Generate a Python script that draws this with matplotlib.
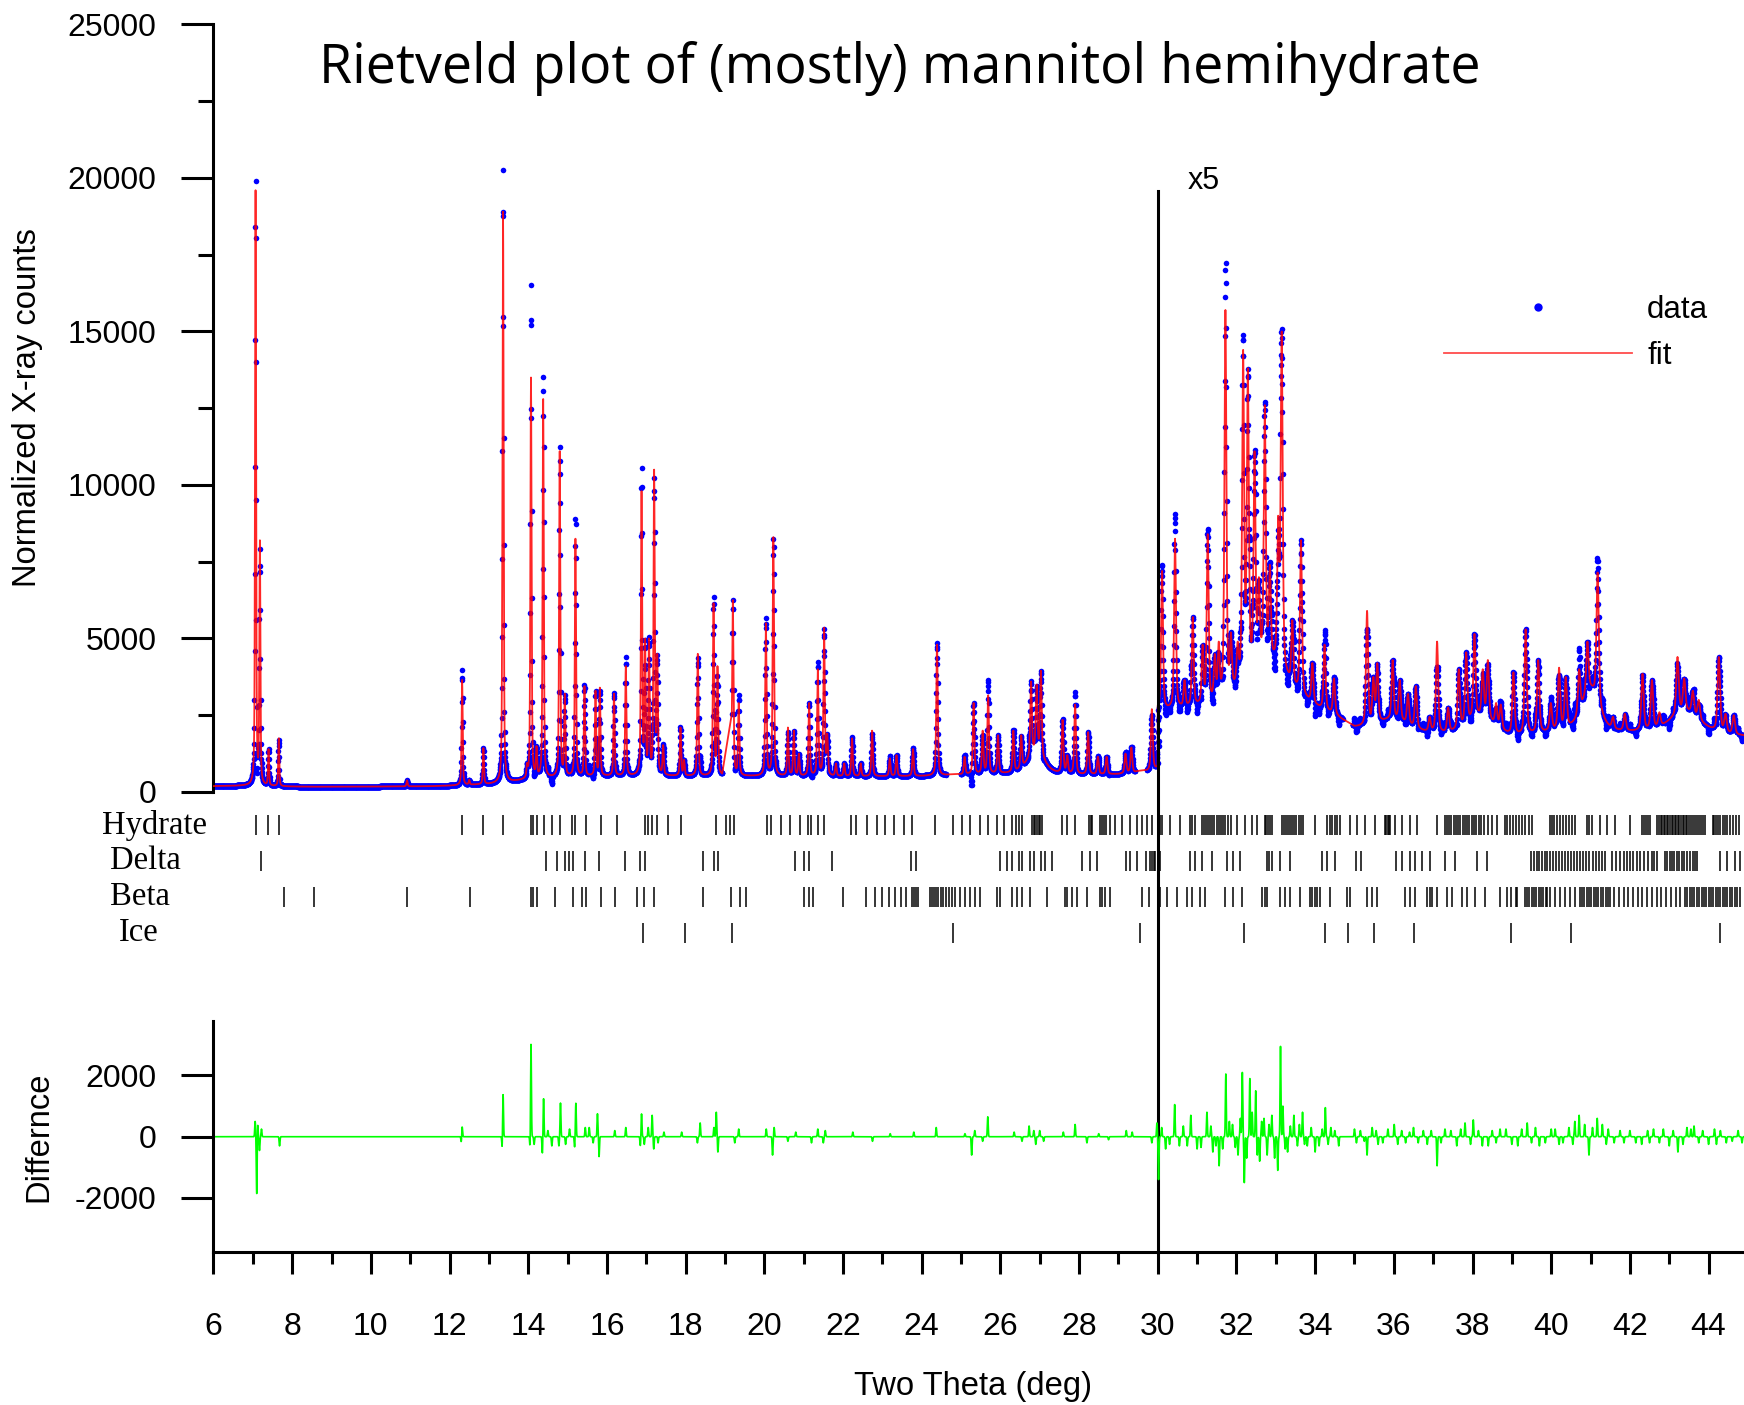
import numpy as np
import matplotlib
matplotlib.use("Agg")
import matplotlib.pyplot as plt
from matplotlib.lines import Line2D
from matplotlib.ticker import MultipleLocator
from matplotlib.transforms import blended_transform_factory

plt.rcParams['font.family'] = ['Liberation Sans', 'DejaVu Sans']
plt.rcParams['axes.unicode_minus'] = False

# --- data (counts above 30 deg are shown x5) ---
STEP = 0.005                      # 2theta step of the scan
X_MIN, X_MAX = 6.0, 44.9
GAPS = [(18.93, 19.17), (24.62, 24.99), (29.42, 29.72), (34.70, 34.95)]

bg_x = [6.0, 6.8, 7.6, 8.5, 10.0, 11.5, 12.2, 13.0, 13.6, 14.2, 15.0, 16.0, 18.0, 20.0,
        22.0, 24.0, 25.0, 26.0, 27.0, 28.0, 29.0, 29.999,
        30.0, 31.0, 32.0, 33.0, 33.8, 34.5, 35.0, 36.0, 37.0, 38.0, 39.0, 40.0, 40.8,
        41.5, 42.5, 43.5, 44.9]
bg_y = [190, 200, 180, 170, 175, 185, 210, 250, 330, 420, 480, 510, 510, 510,
        500, 510, 550, 570, 570, 530, 550, 650,
        2600, 2700, 2900, 2900, 2700, 2400, 2000, 1800, 1800, 1700, 1700, 1900, 2000,
        1900, 1900, 1900, 1800]

fwhm_x = [6, 15, 25, 30, 45]
fwhm_y = [0.030, 0.035, 0.045, 0.055, 0.075]

# fitted peak positions and tops (total counts at the top)
peak_pos = [7.07, 7.18, 7.40, 7.66, 10.92, 12.32, 12.50, 12.86, 13.36, 13.97,
            14.07, 14.21, 14.38, 14.80, 14.93, 15.20, 15.43, 15.71, 15.82, 16.18,
            16.48, 16.88, 16.97, 17.07, 17.20, 17.28, 17.43, 17.87, 17.96, 18.31,
            18.71, 18.81, 19.20, 19.35, 20.04, 20.23, 20.60, 20.75, 20.88, 21.14,
            21.36, 21.52, 21.60, 21.82, 22.03, 22.23, 22.45, 22.74, 23.19, 23.36,
            23.78, 24.39, 25.09, 25.32, 25.55, 25.69, 25.94, 26.33, 26.53, 26.78,
            26.92, 27.03, 27.58, 27.70, 27.90, 28.23, 28.48, 28.70, 29.18, 29.33,
            29.85,
            30.11, 30.44, 30.68, 30.89, 31.14, 31.27, 31.45, 31.55, 31.72, 31.86,
            32.03, 32.17, 32.29, 32.46, 32.57, 32.72, 32.85, 33.06, 33.15, 33.42,
            33.64, 33.93, 34.24, 34.48, 35.32, 35.48, 35.58, 35.97, 36.15, 36.36,
            36.56, 36.91, 37.10, 37.38, 37.65, 37.84, 38.05, 38.26, 38.39, 38.60,
            38.72, 39.04, 39.35, 39.67, 39.99, 40.20, 40.37, 40.71, 40.92, 41.18,
            41.57, 41.87, 42.32, 42.56, 42.75, 43.21, 43.38, 43.60, 43.75, 44.26,
            44.43, 44.64]
peak_top = [19600, 8200, 1400, 1750, 380, 3650, 400, 1430, 18900, 950,
            13500, 1500, 12800, 11100, 3200, 8250, 3450, 3300, 3400, 3200,
            4100, 9800, 5000, 5000, 10500, 4500, 1530, 2100, 1050, 4500,
            6150, 4100, 6250, 2900, 5500, 8300, 2100, 2000, 1250, 2900,
            4000, 5350, 1900, 930, 930, 1750, 930, 2000, 1100, 1200,
            1400, 4800, 1150, 2900, 2000, 3150, 1850, 2000, 1850, 3600,
            3500, 3950, 2350, 1200, 2850, 1950, 1150, 1150, 1250, 1450,
            2700,
            7200, 8250, 3650, 5700, 4800, 8400, 4500, 4900, 15700, 5200,
            4900, 14400, 13800, 11100, 7000, 12600, 7400, 9000, 15000, 5600,
            8200, 4200, 4800, 3700, 5900, 3750, 4200, 4300, 3650, 3200,
            3450, 2450, 4900, 2750, 4000, 4550, 5150, 4000, 4300, 2900,
            2850, 3900, 5300, 4300, 2900, 4050, 3750, 4000, 4900, 7150,
            2450, 2550, 3850, 3650, 2600, 4400, 3700, 3300, 3000, 4400,
            2550, 2500]

# broad humps under the clusters: position, height, fwhm
broad_pos = [26.9, 32.8, 36.0, 38.2, 41.0, 43.4]
broad_h = [700, 1300, 500, 700, 1300, 700]
broad_w = [0.5, 1.2, 1.0, 0.9, 0.5, 0.9]

diff_pos = [7.06, 7.10, 7.12, 7.17, 7.22, 7.68, 12.30, 12.32, 13.34, 13.36,
            14.05, 14.07, 14.15, 14.36, 14.39, 14.50, 14.60, 14.78, 14.82, 14.95,
            15.05, 15.18, 15.21, 15.45, 15.55, 15.65, 15.76, 15.80, 16.20, 16.48,
            16.85, 16.88, 16.95, 17.05, 17.15, 17.19, 17.30, 17.45, 17.90, 18.30,
            18.37, 18.72, 18.78, 18.82, 19.12, 19.25, 19.35, 20.05, 20.21, 20.25,
            20.60, 20.80, 21.20, 21.36, 21.50, 21.55, 22.25, 22.75, 23.20, 23.80,
            24.37, 25.10, 25.27, 25.35, 25.55, 25.68, 26.35, 26.55, 26.73, 26.85,
            26.90, 27.00, 27.10, 27.60, 27.90, 28.20, 28.50, 28.75, 29.20, 29.35,
            29.85, 29.98,
            30.02, 30.10, 30.20, 30.30, 30.43, 30.55, 30.65, 30.75, 30.84, 31.00,
            31.10, 31.25, 31.35, 31.40, 31.48, 31.56, 31.65, 31.73, 31.82, 31.90,
            31.97, 32.04, 32.10, 32.15, 32.20, 32.26, 32.34, 32.40, 32.49, 32.53,
            32.59, 32.64, 32.70, 32.78, 32.83, 32.90, 32.97, 33.05, 33.12, 33.18,
            33.24, 33.30, 33.37, 33.46, 33.55, 33.60, 33.68, 33.73, 33.80, 33.90,
            34.00, 34.10, 34.18, 34.26, 34.33, 34.40, 34.50, 34.60, 35.00, 35.05,
            35.15, 35.25, 35.32, 35.45, 35.55, 35.60, 35.72, 35.85, 36.01, 36.10,
            36.20, 36.30, 36.40, 36.50, 36.62, 36.75, 36.85, 36.95, 37.10, 37.20,
            37.30, 37.45, 37.60, 37.70, 37.81, 37.95, 38.02, 38.15, 38.25, 38.40,
            38.50, 38.60, 38.70, 38.85, 39.00, 39.15, 39.25, 39.39, 39.50, 39.60,
            39.70, 39.85, 40.00, 40.10, 40.20, 40.30, 40.45, 40.55, 40.60, 40.71,
            40.85, 40.96, 41.05, 41.17, 41.30, 41.40, 41.45, 41.60, 41.75, 41.85,
            42.00, 42.15, 42.30, 42.45, 42.50, 42.60, 42.75, 42.85, 43.00, 43.10,
            43.22, 43.35, 43.45, 43.55, 43.63, 43.75, 43.85, 44.00, 44.15, 44.20,
            44.30, 44.45, 44.60, 44.75, 44.85]
diff_val = [500, -1950, 550, -450, 250, -300, -200, 350, -450, 1450,
            -500, 3100, -250, -550, 1250, 200, -300, -300, 1100, -250,
            250, -350, 1100, 300, 300, -200, 750, -650, 200, 300,
            -300, 750, -250, 300, 700, -400, -200, 150, 150, -200,
            450, 300, 800, -500, 300, -200, 250, 250, -600, 300,
            -150, 150, -200, 250, -200, 200, 150, -150, 100, 150,
            300, 100, -600, 200, -150, 650, 150, -150, 350, 200,
            -250, 200, -150, 150, 400, -200, 100, -100, 200, 150,
            -200, 450,
            -1400, 300, -400, -250, 1050, -300, 350, -300, 700, -400,
            -350, 800, 350, -500, -300, -950, -400, 2050, 500, 400,
            -350, -600, 600, 2100, -1500, -700, 1900, 800, 1500, -600,
            -800, 500, 600, -600, 400, 700, -700, -1100, 2950, 1000,
            -400, -500, 350, 700, -300, 400, 800, -250, -300, 300,
            -500, -300, 250, 950, -250, 300, 200, -300, 250, -200,
            200, -150, -600, 300, 200, -250, -200, 250, 400, -250,
            200, -200, 150, 300, -200, 200, -250, 200, -950, -200,
            250, 200, -300, 250, 450, -250, 550, 200, -300, -300,
            200, -200, 250, 250, -250, -300, 250, 450, -200, 300,
            -300, -200, 250, 250, -250, -200, 300, -250, 500, 700,
            400, -600, 300, 600, 400, -250, 250, -200, 200, -200,
            200, -200, -250, 200, -200, 250, -200, 250, -300, 200,
            -500, -250, 300, 250, 350, -200, 200, -250, 250, -250,
            200, -200, -150, 200, -200]

# reflection markers
hydrate = [7.07, 7.38, 7.66, 12.31, 12.86, 13.37, 14.06, 14.13, 14.23, 14.39, 14.60, 14.80,
           15.12, 15.20, 15.47, 15.85, 16.25, 16.98, 17.05, 17.15, 17.27, 17.56, 17.89, 18.77,
           19.02, 19.13, 19.24, 20.07, 20.16, 20.43, 20.65, 20.91, 21.10, 21.18, 21.36, 21.52,
           22.20, 22.34, 22.62, 22.86, 23.08, 23.29, 23.54, 23.76, 24.35, 24.80, 25.03, 25.22,
           25.48, 25.69, 25.92, 26.09, 26.30, 26.39, 26.47, 26.56, 26.81, 26.85, 26.89, 26.93,
           26.97, 27.01, 27.05, 27.57, 27.70, 27.89, 28.25, 28.30, 28.34, 28.53, 28.58, 28.63,
           28.68, 28.78, 28.91, 29.10, 29.29, 29.48, 29.61, 29.73, 29.86, 30.03, 30.06, 30.12,
           30.31, 30.56, 30.82, 30.88, 30.94, 31.13, 31.18, 31.23, 31.27, 31.33, 31.38, 31.44,
           31.50, 31.55, 31.60, 31.66, 31.72, 31.78, 31.86, 32.02, 32.21, 32.40, 32.53, 32.72,
           32.76, 32.80, 32.85, 32.91, 33.17, 33.22, 33.27, 33.31, 33.36, 33.42, 33.47, 33.52,
           33.58, 33.63, 33.69, 33.99, 34.31, 34.37, 34.44, 34.50, 34.56, 34.63, 34.88, 35.07,
           35.26, 35.52, 35.77, 35.80, 35.84, 35.87, 35.91, 36.02, 36.21, 36.41, 36.60, 37.10,
           37.30, 37.35, 37.40, 37.46, 37.52, 37.58, 37.63, 37.69, 37.75, 37.80, 37.86, 37.92,
           37.98, 38.04, 38.10, 38.16, 38.22, 38.30, 38.40, 38.50, 38.63, 38.82, 38.88, 38.95,
           39.02, 39.10, 39.18, 39.26, 39.34, 39.43, 39.52, 39.96, 40.02, 40.08, 40.15, 40.22,
           40.30, 40.38, 40.45, 40.52, 40.60, 40.92, 40.96, 41.04, 41.23, 41.43, 41.62, 42.00,
           42.31, 42.36, 42.41, 42.46, 42.50, 42.70, 42.74, 42.78, 42.82, 42.86, 42.90, 42.94,
           42.98, 43.02, 43.06, 43.10, 43.14, 43.18, 43.22, 43.26, 43.30, 43.34, 43.38, 43.42,
           43.46, 43.50, 43.55, 43.60, 43.65, 43.70, 43.75, 43.80, 43.86, 43.90, 44.10, 44.15,
           44.20, 44.25, 44.30, 44.36, 44.42, 44.48, 44.55, 44.62, 44.70, 44.78]
delta = [7.20, 14.45, 14.72, 14.93, 15.04, 15.15, 15.44, 15.81, 16.47, 16.83, 16.98, 18.44,
         18.73, 18.83, 20.77, 21.02, 21.13, 21.72, 23.72, 23.86, 25.99, 26.18, 26.30, 26.47,
         26.56, 26.75, 26.85, 27.04, 27.13, 27.32, 28.08, 28.27, 28.46, 29.20, 29.29, 29.48,
         29.70, 29.80, 29.85, 29.90, 29.93, 30.05, 30.82, 30.94, 31.13, 31.39, 31.77, 31.90,
         32.09, 32.78, 32.84, 32.91, 33.10, 33.36, 34.18, 34.31, 34.50, 35.05, 35.17, 36.05,
         36.22, 36.41, 36.53, 36.72, 36.91, 37.30, 37.55, 38.12, 38.38, 39.49, 39.56, 39.63,
         39.70, 39.76, 39.83, 39.90, 39.97, 40.05, 40.12, 40.20, 40.28, 40.35, 40.42, 40.50,
         40.58, 40.66, 40.73, 40.80, 40.88, 40.96, 41.05, 41.14, 41.22, 41.30, 41.36, 41.55,
         41.65, 41.75, 41.85, 41.92, 42.00, 42.08, 42.18, 42.26, 42.35, 42.45, 42.55, 42.62,
         42.70, 42.89, 42.95, 43.01, 43.07, 43.13, 43.20, 43.26, 43.32, 43.38, 43.45, 43.52,
         43.60, 43.66, 43.71, 44.28, 44.47, 44.67, 44.79]
beta = [7.78, 8.56, 10.92, 12.53, 14.06, 14.13, 14.23, 14.69, 15.15, 15.37, 15.47, 15.85,
        16.20, 16.76, 16.93, 17.19, 18.43, 19.16, 19.38, 19.53, 21.02, 21.13, 21.25, 22.01,
        22.59, 22.81, 23.00, 23.17, 23.32, 23.47, 23.61, 23.76, 23.80, 23.85, 23.90, 24.20,
        24.25, 24.31, 24.36, 24.42, 24.48, 24.55, 24.62, 24.70, 24.78, 24.85, 24.97, 25.10,
        25.22, 25.35, 25.48, 25.92, 25.99, 26.30, 26.43, 26.56, 26.75, 27.19, 27.64, 27.70,
        27.83, 27.96, 28.21, 28.53, 28.59, 28.65, 28.78, 29.61, 29.77, 30.05, 30.24, 30.50,
        30.75, 30.88, 31.07, 31.20, 31.70, 31.90, 32.15, 32.66, 32.72, 32.78, 33.10, 33.23,
        33.36, 33.61, 33.86, 33.93, 33.99, 34.05, 34.12, 34.37, 34.82, 34.88, 35.33, 35.45,
        35.58, 36.28, 36.41, 36.53, 36.85, 36.92, 36.98, 37.10, 37.36, 37.49, 37.74, 37.87,
        38.06, 38.31, 38.69, 38.88, 38.98, 39.10, 39.14, 39.33, 39.38, 39.44, 39.50, 39.56,
        39.62, 39.68, 39.74, 39.80, 39.86, 39.90, 39.96, 40.10, 40.22, 40.35, 40.48, 40.60,
        40.73, 40.78, 40.84, 40.90, 40.96, 41.02, 41.08, 41.14, 41.20, 41.26, 41.32, 41.38,
        41.44, 41.49, 41.60, 41.72, 41.84, 41.96, 42.08, 42.20, 42.32, 42.44, 42.56, 42.68,
        42.80, 42.92, 43.04, 43.16, 43.27, 43.40, 43.46, 43.52, 43.58, 43.64, 43.70, 43.76,
        43.82, 43.88, 43.94, 44.00, 44.06, 44.12, 44.18, 44.24, 44.30, 44.36, 44.42, 44.48,
        44.54, 44.60, 44.66, 44.72, 44.79]
ice = [16.91, 17.99, 19.17, 24.80, 29.55, 32.18, 34.26, 34.84, 35.49, 36.52, 38.99, 40.51, 44.28]

phase_names = ['Hydrate', 'Delta', 'Beta', 'Ice']
phase_ticks = [hydrate, delta, beta, ice]


# --- build the profiles from the peak list ---
def pseudo_voigt(x, x0, w):
    d = ((x - x0) / w) ** 2
    return 0.5 / (1 + 4 * d) + 0.5 * np.exp(-4 * np.log(2) * d)


x = np.arange(X_MIN, X_MAX, STEP)
keep = np.ones_like(x, dtype=bool)
for a, b in GAPS:
    keep &= ~((x > a) & (x < b))
x = x[keep]

pos = np.array(peak_pos)
wid = np.interp(pos, fwhm_x, fwhm_y)


def broad_sum(xx):
    out = np.zeros_like(xx, dtype=float)
    for p, h, w in zip(broad_pos, broad_h, broad_w):
        out += h * pseudo_voigt(xx, p, w)
    return out


# peak heights so that the fitted curve passes through the read tops
A = pseudo_voigt(pos[:, None], pos[None, :], wid[None, :])
rhs = np.array(peak_top) - np.interp(pos, bg_x, bg_y) - broad_sum(pos)
heights = np.clip(np.linalg.solve(A, rhs), 0, None)

calc = np.interp(x, bg_x, bg_y) + broad_sum(x)
for p, h, w in zip(pos, heights, wid):
    calc += h * pseudo_voigt(x, p, w)

diff = np.zeros_like(x)
for p, v in zip(diff_pos, diff_val):
    diff += v * np.exp(-4 * np.log(2) * ((x - p) / 0.025) ** 2)
obs = calc + diff

# --- figure ---
FS = 23
fig = plt.figure(figsize=(17.44, 14.05), dpi=100)
L, W = 0.1224, 0.8776
ax = fig.add_axes([L, 0.4363, W, 0.5463])
ax_ref = fig.add_axes([L, 0.3231, W, 0.1025])
ax_d = fig.add_axes([L, 0.1086, W, 0.1647])

ax.plot(x, obs, 'o', ms=4.0, color='blue', mec='none', zorder=2)
ax.plot(x, calc, '-', color='red', lw=1.3, alpha=0.85, zorder=3)
ax.set_xlim(X_MIN, X_MAX)
ax.set_ylim(0, 25000)
for s in ['top', 'right', 'bottom']:
    ax.spines[s].set_visible(False)
ax.spines['left'].set_linewidth(2.2)
ax.set_xticks([])
ax.set_yticks(np.arange(0, 25001, 5000))
ax.yaxis.set_minor_locator(MultipleLocator(2500))
ax.tick_params(axis='y', which='major', length=23, width=2.2, pad=18, labelsize=FS)
ax.tick_params(axis='y', which='minor', length=11, width=2.2)
ax.patch.set_visible(False)

ax.text(31.18, 19900, 'x5', ha='center', va='center', fontsize=22)

handles = [Line2D([], [], marker='o', ls='none', color='blue', mec='none', ms=6),
           Line2D([], [], color='red', lw=1.3, alpha=0.7)]
ax.legend(handles, ['data', 'fit'], loc='upper left', bbox_to_anchor=(0.828, 0.790),
          bbox_transform=fig.transFigure, frameon=False, fontsize=22.5, handlelength=6.0,
          handletextpad=0.5, labelspacing=0.5, borderpad=0, borderaxespad=0)

# reflection tick rows
ax_ref.set_xlim(X_MIN, X_MAX)
ax_ref.set_ylim(4, 0)
ax_ref.axis('off')
label_x = [0.0585, 0.0631, 0.0631, 0.0682]
tr = blended_transform_factory(fig.transFigure, ax_ref.transData)
for i, (name, ticks) in enumerate(zip(phase_names, phase_ticks)):
    ax_ref.vlines(ticks, i + 0.5 - 0.28, i + 0.5 + 0.28, color='black', lw=1.1)
    ax_ref.text(label_x[i], i + 0.5, name, transform=tr, ha='left', va='center',
                fontsize=23.5, family='Liberation Serif')

# difference panel
ax_d.plot(x, diff, color='#00ff00', lw=1.2)
ax_d.set_xlim(X_MIN, X_MAX)
ax_d.set_ylim(-3780, 3780)
ax_d.patch.set_visible(False)
for s in ['top', 'right']:
    ax_d.spines[s].set_visible(False)
for s in ['left', 'bottom']:
    ax_d.spines[s].set_linewidth(2.2)
ax_d.set_yticks([-2000, 0, 2000])
ax_d.set_xticks(np.arange(6, 45, 2))
ax_d.xaxis.set_minor_locator(MultipleLocator(1))
ax_d.tick_params(axis='y', length=23, width=2.2, pad=18, labelsize=FS)
ax_d.tick_params(axis='x', which='major', length=16, width=2.2, pad=27, labelsize=FS)
ax_d.tick_params(axis='x', which='minor', length=8.5, width=2.2)

# divider at 30 deg where the x5 scaling starts
vtr = blended_transform_factory(ax.transData, fig.transFigure)
ax.plot([30, 30], [0.864, 0.1086], transform=vtr, color='black', lw=2.2, clip_on=False, zorder=5)

fig.text(0.516, 0.951, 'Rietveld plot of (mostly) mannitol hemihydrate', ha='center',
         va='center', fontsize=38.7, family='Open Sans')
fig.text(0.016, 0.7096, 'Normalized X-ray counts', rotation=90, ha='center', va='center', fontsize=23.6)
fig.text(0.0224, 0.1907, 'Differnce', rotation=90, ha='center', va='center', fontsize=23.6)
fig.text(0.558, 0.0135, 'Two Theta (deg)', ha='center', va='center', fontsize=23.6)

fig.savefig('out.png', dpi=100)
